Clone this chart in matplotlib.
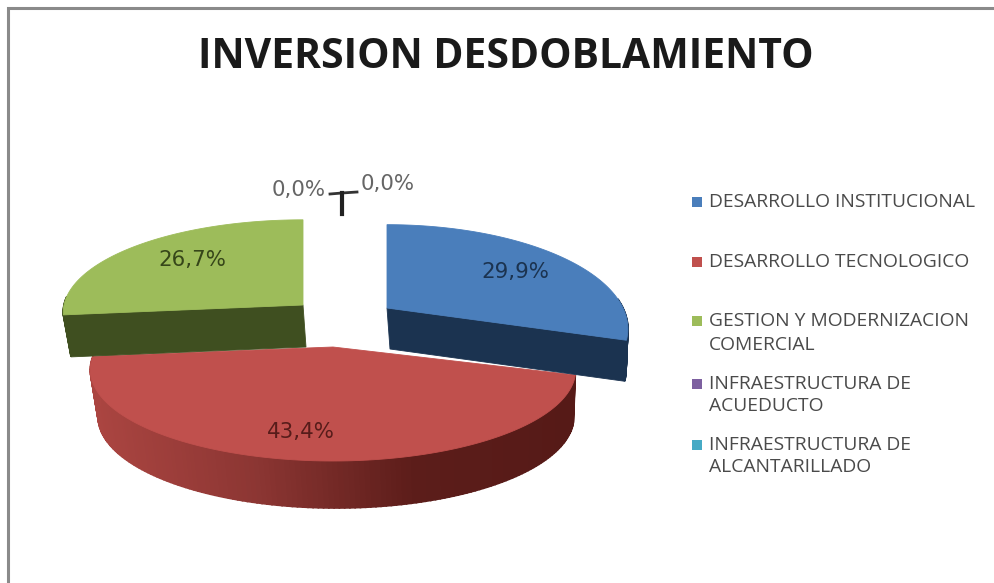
import numpy as np
import matplotlib
matplotlib.use("Agg")
import matplotlib.pyplot as plt
from matplotlib.colors import LinearSegmentedColormap

title = "INVERSION DESDOBLAMIENTO"
legend_labels = [
    "DESARROLLO INSTITUCIONAL",
    "DESARROLLO TECNOLOGICO",
    "GESTION Y MODERNIZACION\nCOMERCIAL",
    "INFRAESTRUCTURA DE\nACUEDUCTO",
    "INFRAESTRUCTURA DE\nALCANTARILLADO",
]
shares = [29.9, 43.4, 26.7, 0.0, 0.0]
share_labels = ["29,9%", "43,4%", "26,7%", "0,0%", "0,0%"]

top_colors = ["#4a7ebb", "#c0504d", "#9dbc5a", "#7d60a0", "#46aac5"]
wall_colors = ["#1b3350", None, "#3f4f20"]
red_rim = LinearSegmentedColormap.from_list("rim", ["#ab4541", "#8c3633", "#5c1d1a", "#561a17"])

# slice projection: apex x, apex y, x radius, y radius, perspective, wall height
proj = [
    (387, 308, 236, 100, 0.2, 41),
    (333, 347, 235, 85.5, 0.25, 47),
    (303, 305, 239, 92, 0.08, 42),
]
label_pos = [(515, 272), (301, 432), (192, 260), (299, 190), (388, 184)]
label_colors = ["#1b3350", "#571c1a", "#364619", "#666666", "#666666"]
legend_y = [(202,), (262,), (321, 345), (384, 406), (445, 467)]


def project(p, t, bottom=False):
    cx, cy, rx, ry, k, h = p
    u, v = np.sin(t), np.cos(t)
    w = 1 + k * v
    x, y = rx * u / w, -ry * v / w
    if bottom:
        return cx + 0.98 * x + 3, cy + y + h
    return cx + x, cy + y


def apex(p, bottom=False):
    if bottom:
        return p[0] + 3, p[1] + p[5]
    return p[0], p[1]


fig = plt.figure(figsize=(9.94, 5.83), dpi=100)
ax = fig.add_axes([0, 0, 1, 1])
ax.set_xlim(0, 994)
ax.set_ylim(583, 0)
ax.axis("off")

# frame of the screenshot
ax.plot([8, 8, 994], [583, 8, 8], color="#8a8a8a", lw=2.2, solid_joinstyle="miter")

edges = np.cumsum([0] + shares) / 100 * 2 * np.pi
order = [1, 2, 0]  # red sits behind the two pulled out slices
for i in order:
    p = proj[i]
    t0, t1 = edges[i], edges[i + 1]
    ts = np.linspace(t0, t1, 160)

    # outer rim, only where it faces the viewer
    front = ts[(ts > np.pi / 2 - 0.1) & (ts < 3 * np.pi / 2 + 0.1)]
    for a, b in zip(front[:-1], front[1:]):
        xa, ya = project(p, a)
        xb, yb = project(p, b)
        xc, yc = project(p, b, True)
        xd, yd = project(p, a, True)
        if wall_colors[i] is None:
            col = red_rim(np.clip((xb - 90) / 480, 0, 1))
        else:
            col = wall_colors[i]
        ax.fill([xa, xb, xc, xd], [ya, yb, yc, yd], color=col, lw=1.2, zorder=order.index(i) * 3 + 1)

    # cut face of the pulled out slices
    if i == 0:
        xa, ya = apex(p)
        xb, yb = project(p, t1)
        xc, yc = project(p, t1, True)
        xd, yd = apex(p, True)
        ax.fill([xa, xb, xc, xd], [ya, yb, yc, yd], color=wall_colors[i], lw=0.6, zorder=order.index(i) * 3 + 1)
    if i == 2:
        xa, ya = apex(p)
        xb, yb = project(p, t0)
        xc, yc = project(p, t0, True)
        xd, yd = apex(p, True)
        ax.fill([xa, xb, xc, xd], [ya, yb, yc, yd], color=wall_colors[i], lw=0.6, zorder=order.index(i) * 3 + 1)

    xs, ys = project(p, ts)
    ax0, ay0 = apex(p)
    ax.fill(np.r_[ax0, xs], np.r_[ay0, ys], color=top_colors[i], lw=0.6, zorder=order.index(i) * 3 + 2)

for txt, (x, y), c in zip(share_labels, label_pos, label_colors):
    ax.text(x, y, txt, ha="center", va="center", fontsize=15.4, color=c, family="DejaVu Sans", zorder=20)

# leader lines of the two empty slices
ax.plot([330, 342, 357], [194, 193, 192], color="#333333", lw=2, zorder=20)
ax.plot([342, 342], [193, 214], color="#222222", lw=3, zorder=20)

ax.text(506, 57, title, ha="center", va="center", fontsize=29.4, fontweight="bold",
        family="Open Sans", color="#1a1a1a")

for lab, ys, c in zip(legend_labels, legend_y, top_colors):
    ax.scatter([697], [ys[0]], marker="s", s=56, color=c, linewidths=0)
    for line, y in zip(lab.split("\n"), ys):
        ax.text(709, y, line, ha="left", va="center", fontsize=13.9, family="Open Sans", color="#4a4a4a")

fig.savefig("out.png", dpi=100)
